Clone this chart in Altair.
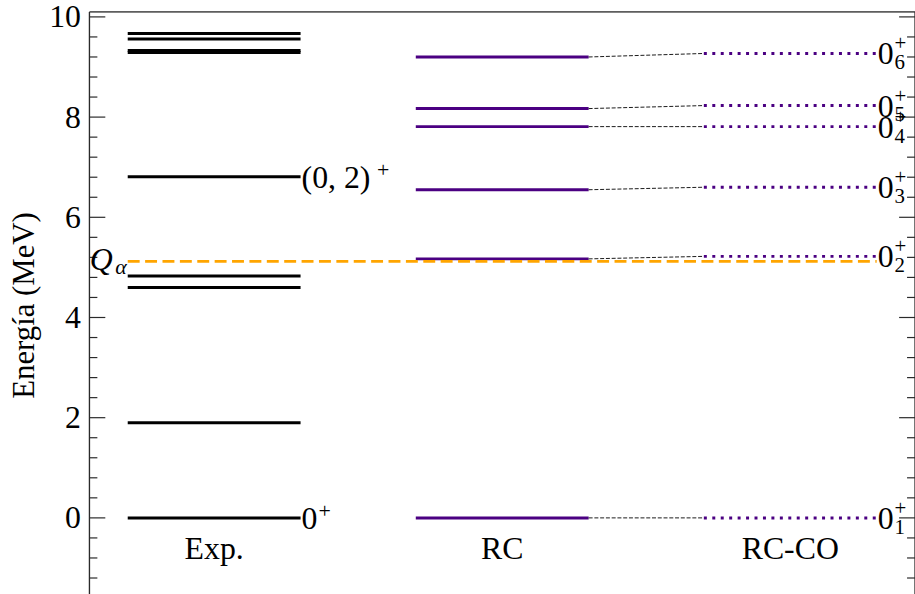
import altair as alt
import pandas as pd

# ---- data ----
exp_levels = [0.0, 1.90, 4.60, 4.83, 6.81, 9.29, 9.33, 9.56, 9.67]
rc_levels = [0.0, 5.17, 6.55, 7.81, 8.17, 9.20]
rcco_levels = [0.0, 5.22, 6.60, 7.81, 8.23, 9.27]
rcco_sub = ["1", "2", "3", "4", "5", "6"]
q_alpha = 5.12
exp_label_levels = [0.0, 6.81]
exp_label_text = ["0", "(0, 2)"]
columns = ["Exp.", "RC", "RC-CO"]
major_ticks = [0, 2, 4, 6, 8, 10]
minor_ticks = [-1.6, -1.2, -0.8, -0.4, 0.4, 0.8, 1.2, 1.6, 2.4, 2.8, 3.2, 3.6,
               4.4, 4.8, 5.2, 5.6, 6.4, 6.8, 7.2, 7.6, 8.4, 8.8, 9.2, 9.6]

HW = 0.3
FONT = "Liberation Serif"
PURPLE = "#4B0082"
FRAME = "#2a2a2a"
W, H = 831, 590

xscale = alt.Scale(domain=[-0.433, 2.433], nice=False, zero=False)
yscale = alt.Scale(domain=[-1.6, 10.1], nice=False, zero=False)
yaxis = alt.Axis(values=major_ticks, labelFont=FONT, labelFontSize=32, labelColor="black",
                 ticks=False, domain=False, grid=False, labelPadding=9,
                 title="Energía (MeV)", titleFont=FONT, titleFontSize=31,
                 titleFontWeight="normal", titleColor="black", titlePadding=8)


def X(f="x"):
    return alt.X(f"{f}:Q", scale=xscale, axis=None)


def Y(f="y"):
    return alt.Y(f"{f}:Q", scale=yscale, axis=yaxis)


exp_df = pd.DataFrame({"y": exp_levels, "x": -HW, "x2": HW})
rc_df = pd.DataFrame({"y": rc_levels, "x": 1 - HW, "x2": 1 + HW})
rcco_df = pd.DataFrame({"y": rcco_levels, "x": 2 - HW, "x2": 2 + HW, "sub": rcco_sub})
conn_df = pd.DataFrame({"y": rc_levels, "y2": rcco_levels, "x": 1 + HW, "x2": 2 - HW})
q_df = pd.DataFrame({"y": [q_alpha], "x": [-HW], "x2": [2 + HW]})
exp_lab_df = pd.DataFrame({"y": exp_label_levels, "x": HW, "t": exp_label_text})
col_df = pd.DataFrame({"x": [0, 1, 2], "y": -0.63, "t": columns})
major_df = pd.DataFrame({"y": major_ticks})
minor_df = pd.DataFrame({"y": minor_ticks})
one = pd.DataFrame({"k": [0]})

exp_lines = alt.Chart(exp_df).mark_rule(color="black", strokeWidth=3).encode(
    x=X(), x2="x2", y=Y())
rc_lines = alt.Chart(rc_df).mark_rule(color=PURPLE, strokeWidth=3).encode(
    x=X(), x2="x2", y=Y())
rcco_lines = alt.Chart(rcco_df).mark_rule(color=PURPLE, strokeWidth=3,
                                          strokeDash=[3, 5.5]).encode(
    x=X(), x2="x2", y=Y())
conn = alt.Chart(conn_df).mark_rule(color="black", strokeWidth=0.9,
                                    strokeDash=[4, 1.8]).encode(
    x=X(), x2="x2", y=Y(), y2="y2")
q_line = alt.Chart(q_df).mark_rule(color="#FFA500", strokeWidth=3,
                                   strokeDash=[12, 5.5]).encode(
    x=X(), x2="x2", y=Y())

# frame
frame_l = alt.Chart(one).mark_rule(color=FRAME, strokeWidth=1.3).encode(
    x=alt.value(0), y=alt.value(0), y2=alt.value(H))
frame_t = alt.Chart(one).mark_rule(color=FRAME, strokeWidth=1.3).encode(
    x=alt.value(0), x2=alt.value(W), y=alt.value(0))
frame_r = alt.Chart(one).mark_rule(color=FRAME, strokeWidth=1.3).encode(
    x=alt.value(W), y=alt.value(0), y2=alt.value(H))

# ticks (inward)
major_l = alt.Chart(major_df).mark_rule(color=FRAME, strokeWidth=1.2).encode(
    y=Y(), x=alt.value(0), x2=alt.value(16))
minor_l = alt.Chart(minor_df).mark_rule(color=FRAME, strokeWidth=1.2).encode(
    y=Y(), x=alt.value(0), x2=alt.value(8))
major_r = alt.Chart(major_df).mark_rule(color=FRAME, strokeWidth=1.2).encode(
    y=Y(), x=alt.value(W), x2=alt.value(W - 16))
minor_r = alt.Chart(minor_df).mark_rule(color=FRAME, strokeWidth=1.2).encode(
    y=Y(), x=alt.value(W), x2=alt.value(W - 8))

# labels
exp_base = alt.Chart(exp_lab_df).mark_text(font=FONT, fontSize=32, align="left",
                                           baseline="middle", dx=1, dy=1, color="black").encode(
    x=X(), y=Y(), text="t:N")
exp_sup0 = alt.Chart(exp_lab_df.iloc[[0]]).mark_text(font=FONT, fontSize=22, align="left",
                                                    baseline="middle", dx=18, dy=-7, color="black").encode(
    x=X(), y=Y(), text=alt.value("+"))
exp_sup1 = alt.Chart(exp_lab_df.iloc[[1]]).mark_text(font=FONT, fontSize=22, align="left",
                                                    baseline="middle", dx=77, dy=-7, color="black").encode(
    x=X(), y=Y(), text=alt.value("+"))
rcco_base = alt.Chart(rcco_df).mark_text(font=FONT, fontSize=32, align="left",
                                         baseline="middle", dx=1, dy=1, color="black").encode(
    x=X("x2"), y=Y(), text=alt.value("0"))
rcco_sup = alt.Chart(rcco_df).mark_text(font=FONT, fontSize=21, align="left",
                                        baseline="middle", dx=18, dy=-9, color="black").encode(
    x=X("x2"), y=Y(), text=alt.value("+"))
rcco_subt = alt.Chart(rcco_df).mark_text(font=FONT, fontSize=21, align="left",
                                         baseline="middle", dx=18, dy=10, color="black").encode(
    x=X("x2"), y=Y(), text="sub:N")
q_text = alt.Chart(q_df).mark_text(font=FONT, fontSize=32, fontStyle="italic", align="right",
                                   baseline="middle", dx=-15, dy=-1, color="black").encode(
    x=X(), y=Y(), text=alt.value("Q"))
q_sub = alt.Chart(q_df).mark_text(font=FONT, fontSize=22, fontStyle="italic", align="right",
                                  baseline="middle", dx=-1, dy=6, color="black").encode(
    x=X(), y=Y(), text=alt.value("α"))
col_text = alt.Chart(col_df).mark_text(font=FONT, fontSize=32, align="center",
                                       baseline="middle", color="black").encode(
    x=X(), y=Y(), text="t:N")

chart = alt.layer(
    major_l, minor_l, major_r, minor_r, frame_l, frame_t, frame_r,
    exp_lines, rc_lines, rcco_lines, conn, q_line,
    exp_base, exp_sup0, exp_sup1, rcco_base, rcco_sup, rcco_subt, q_text, q_sub, col_text,
).properties(
    width=W, height=H,
    padding={"left": 90, "top": 10, "right": 0, "bottom": 0},
    autosize=alt.AutoSizeParams(type="none"),
).configure_view(strokeWidth=0).configure(background="white")

chart.save("out.html", embed_options={"renderer": "svg", "actions": False})
